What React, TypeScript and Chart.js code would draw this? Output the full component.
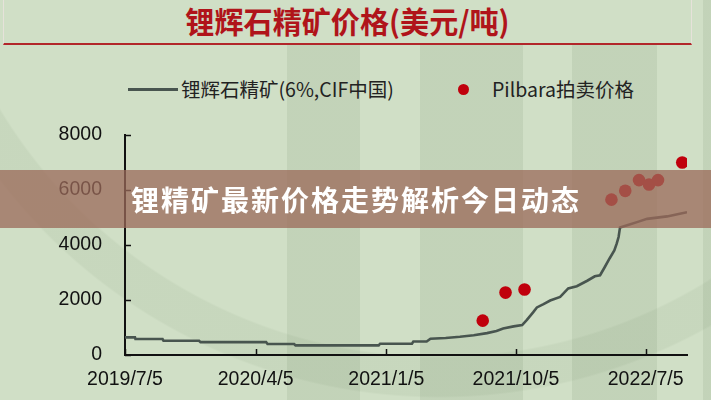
import React, { useEffect, useRef } from "react";
import { Chart, registerables } from "chart.js";

Chart.register(...registerables);

// ---- data ----
const startDate = "2019-07-05";
const endDate = "2022-09-30";

const lineDates = [
  "2019-07-05", "2019-07-26", "2019-07-27", "2019-09-22", "2019-09-24", "2019-12-08",
  "2019-12-11", "2020-04-27", "2020-04-30", "2020-06-25", "2020-06-28", "2020-12-20",
  "2020-12-23", "2021-02-28", "2021-03-03", "2021-03-31", "2021-04-08", "2021-05-10",
  "2021-06-09", "2021-07-08", "2021-08-05", "2021-08-25", "2021-09-08", "2021-09-30",
  "2021-10-18", "2021-10-28", "2021-11-10", "2021-11-18", "2021-12-02", "2021-12-16",
  "2022-01-06", "2022-01-23", "2022-02-10", "2022-03-04", "2022-03-20", "2022-03-31",
  "2022-04-10", "2022-04-20", "2022-04-30", "2022-05-05", "2022-05-09", "2022-05-12",
  "2022-05-27", "2022-06-20", "2022-07-08", "2022-08-19", "2022-09-05", "2022-09-30",
];
const lineValues = [
  640, 640, 580, 580, 520, 520,
  470, 470, 400, 400, 350, 350,
  410, 410, 490, 490, 590, 620,
  665, 720, 795, 870, 960, 1040,
  1090, 1280, 1550, 1730, 1850, 1980,
  2110, 2420, 2500, 2700, 2860, 2900,
  3200, 3510, 3800, 4050, 4290, 4640,
  4720, 4850, 4950, 5040, 5100, 5190,
];

const auctionDates = [
  "2021-07-27", "2021-09-13", "2021-10-23", "2022-04-24", "2022-05-23",
  "2022-06-21", "2022-07-12", "2022-07-31", "2022-09-20",
];
const auctionValues = [1250, 2270, 2380, 5650, 5970, 6360, 6200, 6360, 7000];

const xTickDates = ["2019-07-05", "2020-04-05", "2021-01-05", "2021-10-05", "2022-07-05"];
const xTickLabels = ["2019/7/5", "2020/4/5", "2021/1/5", "2021/10/5", "2022/7/5"];
const yTickValues = [0, 2000, 4000, 6000, 8000];

const lineLabel = "锂辉石精矿(6%,CIF中国)";
const auctionLabel = "Pilbara拍卖价格";
const titleText = "锂辉石精矿价格(美元/吨)";
const bannerText = "锂精矿最新价格走势解析今日动态";

const dayOf = (s: string) =>
  (Date.parse(s + "T00:00:00Z") - Date.parse(startDate + "T00:00:00Z")) / 86400000;

const LINE_COLOR = "#48554f";
const DOT_COLOR = "#c0000c";
const CJK = '"Noto Sans CJK SC", "Noto Sans", sans-serif';
const TICK_FONT = '"Liberation Sans", Arial, sans-serif';

const inwardTicks = {
  id: "inwardTicks",
  afterDraw(chart: any) {
    const { ctx, chartArea, scales } = chart;
    const x = scales.x;
    const y = scales.y;
    ctx.save();
    ctx.strokeStyle = "#111";
    ctx.lineWidth = 1.5;
    ctx.beginPath();
    for (const t of y.ticks) {
      const py = Math.round(y.getPixelForValue(t.value)) + 0.5;
      ctx.moveTo(chartArea.left, py);
      ctx.lineTo(chartArea.left + 6, py);
    }
    for (const t of x.ticks) {
      const px = Math.round(x.getPixelForValue(t.value)) + 0.5;
      ctx.moveTo(px, chartArea.bottom);
      ctx.lineTo(px, chartArea.bottom - 6);
    }
    ctx.stroke();
    ctx.restore();
  },
};

export default function App() {
  const canvasRef = useRef<HTMLCanvasElement | null>(null);

  useEffect(() => {
    const canvas = canvasRef.current;
    if (!canvas) return;
    const lineData = lineDates.map((d, i) => ({ x: dayOf(d), y: lineValues[i] }));
    const dotData = auctionDates.map((d, i) => ({ x: dayOf(d), y: auctionValues[i] }));
    const xTickDays = xTickDates.map(dayOf);

    const chart = new Chart(canvas, {
      type: "line",
      data: {
        datasets: [
          {
            label: lineLabel,
            data: lineData,
            borderColor: LINE_COLOR,
            borderWidth: 2.6,
            pointRadius: 0,
            tension: 0,
            fill: false,
          },
          {
            label: auctionLabel,
            data: dotData,
            showLine: false,
            pointRadius: 6.3,
            pointHoverRadius: 6.3,
            pointBackgroundColor: DOT_COLOR,
            pointBorderWidth: 0,
            backgroundColor: DOT_COLOR,
            borderColor: DOT_COLOR,
          },
        ],
      },
      options: {
        animation: false,
        responsive: false,
        maintainAspectRatio: false,
        events: [],
        layout: { padding: { top: 135, right: 24, left: 0, bottom: 0 } },
        plugins: {
          legend: { display: false },
          tooltip: { enabled: false },
          title: { display: false },
        },
        scales: {
          x: {
            type: "linear",
            min: 0,
            max: dayOf(endDate),
            grid: { display: false, drawTicks: false },
            border: { display: true, color: "#111", width: 2 },
            afterFit: (s: any) => {
              s.height = 45;
            },
            afterBuildTicks: (s: any) => {
              s.ticks = xTickDays.map((v) => ({ value: v }));
            },
            ticks: {
              autoSkip: false,
              maxRotation: 0,
              padding: 13,
              color: "#111",
              font: { family: TICK_FONT, size: 19.5 },
              callback: (v: any) => {
                const i = xTickDays.indexOf(Number(v));
                return i >= 0 ? xTickLabels[i] : "";
              },
            },
          },
          y: {
            min: 0,
            max: 8000,
            grid: { display: false, drawTicks: false },
            border: { display: true, color: "#111", width: 2 },
            afterFit: (s: any) => {
              s.width = 125;
            },
            afterBuildTicks: (s: any) => {
              s.ticks = yTickValues.map((v) => ({ value: v }));
            },
            ticks: {
              padding: 23,
              color: "#111",
              font: { family: TICK_FONT, size: 19.5 },
              callback: (v: any) => String(v),
            },
          },
        },
      },
      plugins: [inwardTicks],
    } as any);

    return () => chart.destroy();
  }, []);

  const stripe = "rgba(60,90,50,0.09)";
  const background = [
    "radial-gradient(circle at 439px -156px, transparent 512px, rgba(60,90,50,0.06) 514px, rgba(60,90,50,0.06) 552px, transparent 554px)",
    `linear-gradient(90deg, transparent 0px, transparent 287px, ${stripe} 287px, ${stripe} 360px, transparent 360px, transparent 420px, ${stripe} 420px, ${stripe} 523px, transparent 523px, transparent 572px, ${stripe} 572px, ${stripe} 657px, transparent 657px, transparent 703px, ${stripe} 703px)`,
  ].join(", ");

  return (
    <div
      style={{
        position: "fixed",
        left: 0,
        top: 0,
        width: 711,
        height: 400,
        overflow: "hidden",
        backgroundColor: "#d0dfc6",
        backgroundImage: background,
      }}
    >
      <div
        style={{
          position: "absolute",
          left: 3,
          top: -2,
          width: 687,
          height: 45,
          backgroundColor: "#d0dfc6",
          borderLeft: "1px solid #e6e2da",
          borderRight: "1px solid #e6e2da",
          borderBottom: "2px solid #b2262a",
        }}
      >
        <div
          style={{
            position: "absolute",
            left: 0,
            right: 0,
            top: 5,
            textAlign: "center",
            fontFamily: CJK,
            fontWeight: 700,
            fontSize: 30,
            lineHeight: "34px",
            color: "#b0141a",
            whiteSpace: "nowrap",
            transform: "scaleX(0.97)",
          }}
        >
          {titleText}
        </div>
      </div>

      <div
        style={{
          position: "absolute",
          left: 128,
          top: 88,
          width: 50,
          height: 2.5,
          backgroundColor: LINE_COLOR,
        }}
      />
      <div
        style={{
          position: "absolute",
          left: 181,
          top: 76,
          fontFamily: CJK,
          fontSize: 19.5,
          lineHeight: "26px",
          color: "#222",
          whiteSpace: "nowrap",
        }}
      >
        {lineLabel}
      </div>
      <div
        style={{
          position: "absolute",
          left: 458,
          top: 84,
          width: 11,
          height: 11,
          borderRadius: "50%",
          backgroundColor: DOT_COLOR,
        }}
      />
      <div
        style={{
          position: "absolute",
          left: 492,
          top: 76,
          fontFamily: CJK,
          fontSize: 19.5,
          lineHeight: "26px",
          color: "#222",
          whiteSpace: "nowrap",
        }}
      >
        {auctionLabel}
      </div>

      <canvas
        ref={canvasRef}
        width={711}
        height={400}
        style={{ position: "absolute", left: 0, top: 0, width: 711, height: 400 }}
      />

      <div
        style={{
          position: "absolute",
          left: 0,
          top: 170,
          width: 711,
          height: 58,
          backgroundColor: "rgba(155,105,90,0.75)",
        }}
      >
        <div
          style={{
            position: "absolute",
            left: 131,
            top: 0,
            height: 58,
            lineHeight: "58px",
            fontFamily: CJK,
            fontWeight: 700,
            fontSize: 28,
            letterSpacing: 2,
            color: "#ffffff",
            whiteSpace: "nowrap",
          }}
        >
          {bannerText}
        </div>
      </div>
    </div>
  );
}
